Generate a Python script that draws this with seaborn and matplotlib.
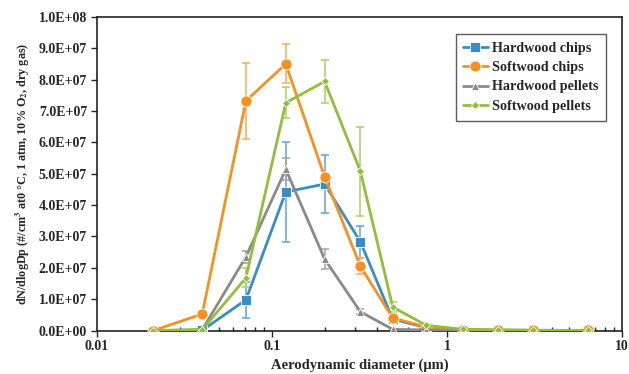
import numpy as np
import pandas as pd
import matplotlib
matplotlib.use('Agg')
import matplotlib.pyplot as plt
from matplotlib.ticker import FuncFormatter, LogLocator, NullFormatter
import seaborn as sns

# ── Data (units of 1e6 #/cm3) ────────────────────────────────────────────────
diameter = [0.021, 0.040, 0.071, 0.12, 0.20, 0.32, 0.49, 0.76, 1.23, 1.95, 3.1, 6.4]

hw_chips       = [0.0, 0.1, 9.8, 44.2, 46.7, 28.3, 3.6, 1.0, 0.3, 0.15, 0.1, 0.05]
hw_chips_err   = [0.0, 0.0, 5.8, 16.0, 9.2, 5.0, 0.8, 0.3, 0.1, 0.0, 0.0, 0.0]
sw_chips       = [0.0, 5.3, 73.2, 85.0, 49.0, 20.5, 4.0, 1.2, 0.3, 0.15, 0.1, 0.05]
sw_chips_err   = [0.0, 0.3, 12.0, 6.2, 1.0, 2.5, 0.5, 0.2, 0.1, 0.0, 0.0, 0.0]
hw_pellets     = [0.0, 0.3, 23.5, 51.4, 22.8, 6.0, 0.4, 0.2, 0.1, 0.05, 0.03, 0.02]
hw_pellets_err = [0.0, 0.0, 2.0, 3.5, 3.2, 0.8, 0.2, 0.1, 0.0, 0.0, 0.0, 0.0]
sw_pellets     = [0.0, 0.3, 16.8, 72.6, 79.4, 50.8, 7.5, 1.7, 0.4, 0.2, 0.1, 0.05]
sw_pellets_err = [0.0, 0.0, 3.0, 5.0, 7.0, 14.2, 1.5, 0.3, 0.1, 0.0, 0.0, 0.0]

series = ['Hardwood chips', 'Softwood chips', 'Hardwood pellets', 'Softwood pellets']
values = [hw_chips, sw_chips, hw_pellets, sw_pellets]
errors = [hw_chips_err, sw_chips_err, hw_pellets_err, sw_pellets_err]

# ── Settings ──────────────────────────────────────────────────────────────────
sns.set_theme(style="white")
plt.rcParams['font.family'] = ['Liberation Serif', 'DejaVu Serif']
plt.rcParams['font.weight'] = 'bold'
plt.rcParams['mathtext.fontset'] = 'stix'

COLORS  = ['#3a8cc4', '#f7901e', '#8a8a8a', '#92bf3a']
ECOLORS = ['#6aaad6', '#f9b061', '#a8a8a8', '#b3d36f']
MARKERS = ['s', 'o', '^', 'D']
MSIZES  = [7, 8, 6, 4]

rows = []
for name, vals in zip(series, values):
    for d, v in zip(diameter, vals):
        rows.append({'Diameter': d, 'Conc': v * 1e6, 'Sample': name})
df = pd.DataFrame(rows)

fig = plt.figure(figsize=(6.29, 3.74), dpi=100)
ax = fig.add_axes([0.154, 0.116, 0.835, 0.839])

# error bars first so lines sit on top
for name, vals, errs, ec in zip(series, values, errors, ECOLORS):
    ax.errorbar(diameter, np.array(vals) * 1e6, yerr=np.array(errs) * 1e6,
                fmt='none', ecolor=ec, elinewidth=1.2, capsize=3, capthick=1.2, zorder=2)

for name, color, mk, ms in zip(series, COLORS, MARKERS, MSIZES):
    sub = df[df['Sample'] == name]
    sns.lineplot(data=sub, x='Diameter', y='Conc', ax=ax, color=color, marker=mk,
                 markersize=ms, markeredgecolor='white', markeredgewidth=0.6,
                 linewidth=2.0, label=name, zorder=3)

ax.set_xscale('log')
ax.set_xlim(0.01, 10)
ax.set_ylim(0, 1.0e8)
ax.set_yticks(np.arange(0, 1.01e8, 1e7))
ax.yaxis.set_major_formatter(FuncFormatter(lambda v, p: f'{v:.1E}'))
ax.xaxis.set_major_locator(LogLocator(base=10))
ax.xaxis.set_minor_locator(LogLocator(base=10, subs=np.arange(2, 10)))
ax.xaxis.set_minor_formatter(NullFormatter())
ax.xaxis.set_major_formatter(FuncFormatter(lambda v, p: f'{v:g}'))

ax.tick_params(axis='y', direction='out', length=4, width=1, labelsize=10, left=True, pad=3)
ax.tick_params(axis='x', which='major', direction='out', length=4, width=1,
               labelsize=10, bottom=True, pad=3)
ax.tick_params(axis='x', which='minor', direction='in', length=3, width=1, bottom=True)
for lab in ax.get_xticklabels() + ax.get_yticklabels():
    lab.set_fontweight('bold')

for s in ax.spines.values():
    s.set_color('#222222')
    s.set_linewidth(1.2)

ax.set_xlabel('Aerodynamic diameter (μm)', fontsize=10.5, fontweight='bold', labelpad=4)
ax.set_ylabel('dN/dlogDp (#/cm$^3$ at0 °C, 1 atm, 10% O$_2$, dry gas)',
              fontsize=8.7, fontweight='bold', labelpad=5)

leg = ax.legend(loc='upper right', bbox_to_anchor=(0.983, 0.968), frameon=True,
                fancybox=False, edgecolor='#333333', handlelength=1.7,
                borderpad=0.55, labelspacing=0.45, handletextpad=0.3,
                prop={'weight': 'bold', 'size': 10.2})
leg.get_frame().set_linewidth(1.0)

plt.savefig('out.png', dpi=100)
plt.close()
